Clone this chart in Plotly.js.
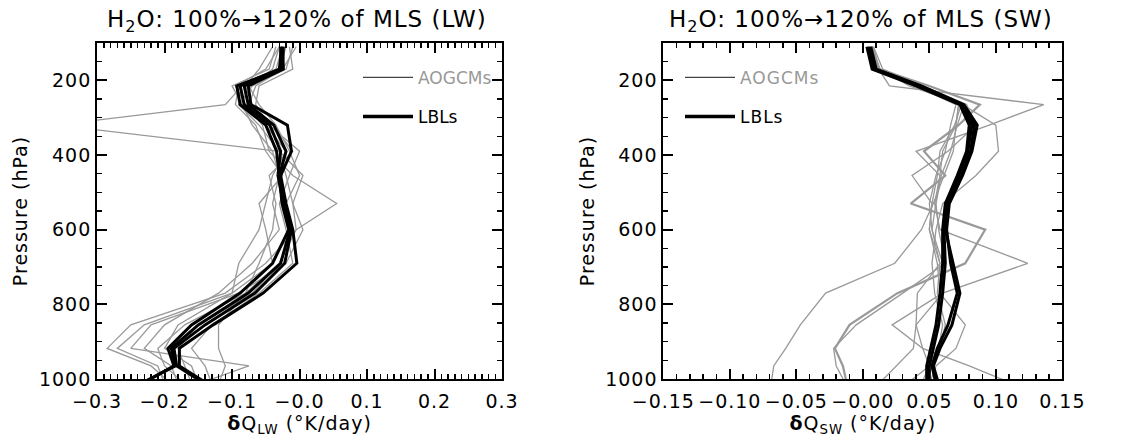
<!DOCTYPE html>
<html>
<head>
<meta charset="utf-8">
<script src="https://cdn.plot.ly/plotly-3.0.1.min.js"></script>
<style>
  body { margin: 0; background: #fff; }
  #plt { width: 1131px; height: 440px; }
  /* the original IDL lettering is wide-set */
  #plt .main-svg text { letter-spacing: 1px; }
  #plt .legend text { letter-spacing: 0; }
  #plt .annotation-text { letter-spacing: 1.5px; }
</style>
</head>
<body>
<div id="plt"></div>
<script>
// pressure levels (hPa) shared by all profiles
var pres = [110, 170, 215, 265, 320, 390, 455, 530, 600, 690, 770, 855, 918, 965, 1013];

// LW heating-rate change, AOGCMs (K/day)
var lwGcm1 = [-0.020, -0.030, -0.085, -0.110, -0.360, -0.030, -0.020, -0.010, -0.005, -0.030, -0.080, -0.170, -0.210, -0.200, -0.170];
var lwGcm2 = [-0.030, -0.050, -0.095, -0.080, -0.055, -0.045, -0.010, 0.055, -0.005, -0.050, -0.110, -0.250, -0.285, -0.220, -0.190];
var lwGcm3 = [-0.010, -0.020, -0.070, -0.090, -0.060, -0.030, 0.005, -0.010, 0.005, -0.020, -0.090, -0.220, -0.250, -0.075, -0.150];
var lwGcm4 = [-0.035, -0.045, -0.100, -0.085, -0.070, -0.040, -0.030, -0.040, -0.030, -0.070, -0.120, -0.200, -0.230, -0.190, -0.180];
var lwGcm5 = [-0.040, -0.060, -0.080, -0.070, -0.050, -0.020, -0.040, -0.050, -0.060, -0.090, -0.100, -0.180, -0.200, -0.160, -0.150];
var lwGcm6 = [-0.015, -0.010, -0.060, -0.065, -0.045, 0.000, -0.015, -0.030, -0.020, -0.010, -0.060, -0.130, -0.160, -0.140, -0.130];
var lwGcm7 = [-0.005, -0.025, -0.065, -0.075, -0.040, -0.010, -0.045, -0.035, -0.040, -0.060, -0.080, -0.120, -0.120, -0.110, -0.120];
var lwGcm8 = [-0.025, -0.035, -0.090, -0.095, -0.065, -0.050, -0.025, -0.060, -0.050, -0.040, -0.100, -0.230, -0.270, -0.210, -0.200];
var lwGcm9 = [-0.030, -0.040, -0.075, -0.060, -0.035, -0.015, 0.000, -0.020, -0.010, -0.030, -0.070, -0.150, -0.180, -0.170, -0.160];

// LW, line-by-line models
var lwLbl1 = [-0.028, -0.028, -0.093, -0.088, -0.050, -0.034, -0.030, -0.026, -0.016, -0.040, -0.088, -0.160, -0.195, -0.186, -0.234];
var lwLbl2 = [-0.026, -0.030, -0.088, -0.082, -0.044, -0.028, -0.032, -0.024, -0.014, -0.028, -0.076, -0.150, -0.190, -0.184, -0.236];
var lwLbl3 = [-0.024, -0.026, -0.082, -0.076, -0.038, -0.020, -0.030, -0.022, -0.012, -0.022, -0.066, -0.140, -0.186, -0.182, -0.140];
var lwLbl4 = [-0.025, -0.024, -0.076, -0.072, -0.018, -0.012, -0.028, -0.020, -0.010, -0.004, -0.054, -0.128, -0.178, -0.178, -0.136];

// SW heating-rate change, AOGCMs (K/day)
var swGcm1 = [0.008, 0.015, 0.045, 0.072, 0.070, 0.068, 0.061, 0.053, 0.044, 0.024, -0.028, -0.047, -0.058, -0.067, -0.069];
var swGcm2 = [0.007, 0.012, 0.050, 0.088, 0.072, 0.046, 0.062, 0.036, 0.092, 0.077, 0.026, -0.010, -0.021, -0.015, -0.012];
var swGcm3 = [0.006, 0.011, 0.045, 0.078, 0.085, 0.064, 0.037, 0.052, 0.050, 0.058, 0.041, 0.040, 0.038, 0.025, 0.012];
var swGcm4 = [0.008, 0.012, 0.020, 0.136, 0.095, 0.040, 0.058, 0.055, 0.052, 0.058, 0.056, 0.062, 0.058, 0.050, 0.044];
var swGcm5 = [0.007, 0.013, 0.035, 0.075, 0.100, 0.102, 0.085, 0.060, 0.055, 0.052, 0.054, 0.060, 0.057, 0.052, 0.048];
var swGcm6 = [0.006, 0.010, 0.042, 0.072, 0.070, 0.060, 0.058, 0.054, 0.058, 0.124, 0.060, 0.040, 0.045, 0.080, 0.113];
var swGcm7 = [0.007, 0.011, 0.040, 0.070, 0.066, 0.062, 0.055, 0.050, 0.052, 0.060, 0.060, 0.022, 0.045, 0.050, 0.033];
var swGcm8 = [0.006, 0.012, 0.038, 0.074, 0.069, 0.058, 0.056, 0.052, 0.050, 0.056, 0.058, 0.077, 0.070, 0.055, 0.050];
var swGcm9 = [0.007, 0.010, 0.044, 0.076, 0.071, 0.066, 0.059, 0.055, 0.057, 0.062, 0.030, -0.005, -0.022, -0.020, -0.013];

// SW, line-by-line models
var swLbl1 = [0.004, 0.008, 0.042, 0.075, 0.084, 0.081, 0.074, 0.064, 0.062, 0.068, 0.073, 0.067, 0.058, 0.053, 0.057];
var swLbl2 = [0.006, 0.010, 0.044, 0.076, 0.086, 0.082, 0.075, 0.065, 0.063, 0.066, 0.071, 0.064, 0.056, 0.052, 0.055];
var swLbl3 = [0.003, 0.007, 0.040, 0.073, 0.080, 0.078, 0.071, 0.062, 0.060, 0.060, 0.058, 0.055, 0.051, 0.048, 0.048];
var swLbl4 = [0.005, 0.009, 0.043, 0.074, 0.082, 0.079, 0.072, 0.063, 0.061, 0.062, 0.060, 0.057, 0.053, 0.050, 0.050];

var lwTicks = [-0.3, -0.2, -0.1, 0, 0.1, 0.2, 0.3];
var lwTickText = ['\u22120.3', '\u22120.2', '\u22120.1', '\u22120.0', '0.1', '0.2', '0.3'];
var swTicks = [-0.15, -0.10, -0.05, 0, 0.05, 0.10, 0.15];
var swTickText = ['\u22120.15', '\u22120.10', '\u22120.05', '\u22120.00', '0.05', '0.10', '0.15'];
var presTicks = [200, 400, 600, 800, 1000];

var gcmGray = '#999999';
var fnt = 'DejaVu Sans, sans-serif';

function profile(x, xa, ya, color, width){
    return {
        type: 'scatter', mode: 'lines',
        x: x, y: pres, xaxis: xa, yaxis: ya,
        line: {color: color, width: width},
        showlegend: false, hoverinfo: 'skip'
    };
}

function keyEntry(name, color, width, leg, grp){
    return {
        type: 'scatter', mode: 'lines',
        x: [null], y: [null],
        xaxis: leg == 'legend' ? 'x' : 'x2', yaxis: leg == 'legend' ? 'y' : 'y2',
        name: name, legend: leg, legendgroup: grp,
        line: {color: color, width: width}
    };
}

var d = [];
[lwGcm1, lwGcm2, lwGcm3, lwGcm4, lwGcm5, lwGcm6, lwGcm7, lwGcm8, lwGcm9].forEach(function(s){
    d.push(profile(s, 'x', 'y', gcmGray, 1.3));
});
[lwLbl1, lwLbl2, lwLbl3, lwLbl4].forEach(function(s){
    d.push(profile(s, 'x', 'y', '#000', 3));
});
[swGcm1, swGcm2, swGcm3, swGcm4, swGcm5, swGcm6, swGcm7, swGcm8, swGcm9].forEach(function(s, i){
    d.push(profile(s, 'x2', 'y2', gcmGray, (i == 1) ? 2.2 : 1.3));
});
[swLbl1, swLbl2, swLbl3, swLbl4].forEach(function(s){
    d.push(profile(s, 'x2', 'y2', '#000', 3));
});

d.push(keyEntry('<span style="color:#999">AOGCMs</span>', '#444', 1.3, 'legend', 'a'));
d.push(keyEntry('LBLs', '#000', 3.5, 'legend', 'b'));
d.push(keyEntry('<span style="color:#999">AOGCMs</span>', '#444', 1.3, 'legend2', 'a'));
d.push(keyEntry('LBLs', '#000', 3.5, 'legend2', 'b'));

// empty traces so the mirror-tick axes on top / right get drawn
d.push({type: 'scatter', x: [null], y: [null], xaxis: 'x3', yaxis: 'y3', showlegend: false, hoverinfo: 'skip'});
d.push({type: 'scatter', x: [null], y: [null], xaxis: 'x4', yaxis: 'y4', showlegend: false, hoverinfo: 'skip'});

var tickFont = {family: fnt, size: 19, color: '#000'};

function xax(dom, rng, tv, tt, title){
    return {
        domain: dom, range: rng, tickvals: tv, ticktext: tt,
        ticks: 'inside', ticklen: 10, tickwidth: 2, tickcolor: '#000',
        minor: {dtick: 0.01, ticks: 'inside', ticklen: 5, tickwidth: 1.5, tickcolor: '#000'},
        showline: true, linewidth: 2, linecolor: '#000', mirror: true,
        showgrid: false, zeroline: false,
        tickfont: tickFont, ticklabelstandoff: 4,
        title: {text: title, font: {family: fnt, size: 19, color: '#000'}, standoff: 2}
    };
}

function yax(anchor){
    return {
        anchor: anchor, range: [1000, 100], tickvals: presTicks,
        ticks: 'inside', ticklen: 10, tickwidth: 2, tickcolor: '#000',
        minor: {dtick: 50, ticks: 'inside', ticklen: 5, tickwidth: 1.5, tickcolor: '#000'},
        showline: true, linewidth: 2, linecolor: '#000', mirror: true,
        showgrid: false, zeroline: false,
        tickfont: tickFont,
        title: {text: 'Pressure (hPa)', font: {family: fnt, size: 19, color: '#000'}, standoff: 10}
    };
}

// tick-only copies for the opposite sides
function mirrorAxis(base, over, anchor, side){
    return {
        overlaying: over, anchor: anchor, side: side, matches: over,
        tickvals: base.tickvals, showticklabels: false,
        ticks: 'inside', ticklen: 10, tickwidth: 2, tickcolor: '#000',
        minor: {dtick: base.minor.dtick, ticks: 'inside', ticklen: 5, tickwidth: 1.5, tickcolor: '#000'},
        showline: false, showgrid: false, zeroline: false
    };
}

var xa1 = xax([0.0858, 0.4439], [-0.3, 0.3], lwTicks, lwTickText, '<b>\u03b4</b>Q<sub>LW</sub> (\u00b0K/day)');
var xa2 = xax([0.5865, 0.9393], [-0.15, 0.15], swTicks, swTickText, '<b>\u03b4</b>Q<sub>SW</sub> (\u00b0K/day)');
var ya1 = yax('x');
var ya2 = yax('x2');

var legStyle = {
    bgcolor: 'rgba(0,0,0,0)', borderwidth: 0,
    font: {family: fnt, size: 17, color: '#000'},
    tracegroupgap: 14, itemwidth: 50,
    xanchor: 'left', yanchor: 'top'
};

var l = {
    width: 1131, height: 440,
    margin: {l: 0, r: 0, t: 43, b: 61},
    paper_bgcolor: '#fff', plot_bgcolor: '#fff',
    xaxis: xa1, yaxis: ya1, xaxis2: xa2, yaxis2: ya2,
    xaxis3: mirrorAxis(xa1, 'x', 'y', 'top'), yaxis3: mirrorAxis(ya1, 'y', 'x', 'right'),
    xaxis4: mirrorAxis(xa2, 'x2', 'y2', 'top'), yaxis4: mirrorAxis(ya2, 'y2', 'x2', 'right'),
    legend: Object.assign({x: 358 / 1131, y: 0.95}, legStyle),
    legend2: Object.assign({x: 680 / 1131, y: 0.95}, legStyle),
    annotations: [
        {text: 'H<sub>2</sub>O: 100%\u2192120% of MLS (LW)', xref: 'paper', yref: 'paper',
         x: 0.263, y: 1, yshift: 22, showarrow: false, xanchor: 'center', yanchor: 'middle',
         font: {family: fnt, size: 23, color: '#000'}},
        {text: 'H<sub>2</sub>O: 100%\u2192120% of MLS (SW)', xref: 'paper', yref: 'paper',
         x: 0.761, y: 1, yshift: 22, showarrow: false, xanchor: 'center', yanchor: 'middle',
         font: {family: fnt, size: 23, color: '#000'}}
    ]
};

Plotly.newPlot('plt', d, l, {displayModeBar: false, staticPlot: true});
</script>
</body>
</html>
